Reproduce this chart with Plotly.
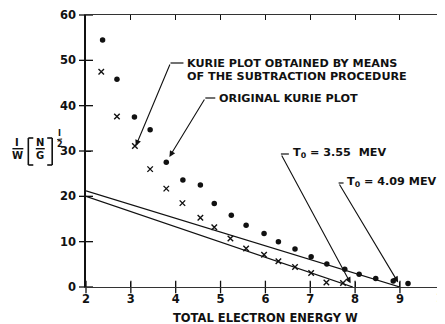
import plotly.graph_objects as go

# ---------------- data ----------------
dots_x = [2.37, 2.69, 3.08, 3.43, 3.79, 4.16, 4.55, 4.86, 5.24, 5.57, 5.97, 6.29, 6.66, 7.02, 7.37, 7.77, 8.09, 8.46, 8.85, 9.18]
dots_y = [54.5, 45.8, 37.5, 34.7, 27.5, 23.6, 22.5, 18.4, 15.8, 13.6, 11.8, 10.0, 8.4, 6.7, 5.1, 3.9, 2.8, 1.9, 1.3, 0.75]

cross_x = [2.34, 2.69, 3.09, 3.43, 3.79, 4.15, 4.55, 4.86, 5.22, 5.57, 5.97, 6.29, 6.66, 7.02, 7.36, 7.73]
cross_y = [47.5, 37.6, 31.1, 26.0, 21.7, 18.5, 15.3, 13.2, 10.7, 8.5, 7.1, 5.7, 4.4, 3.1, 1.0, 0.9]

fit_orig_x = [2.0, 9.0]
fit_orig_y = [21.2, 0.0]
fit_sub_x = [2.0, 7.95]
fit_sub_y = [20.0, 0.0]

x_ticks = [2, 3, 4, 5, 6, 7, 8, 9]
y_ticks = [0, 10, 20, 30, 40, 50, 60]

# ---------------- style ----------------
INK = "#111111"
FONT = "DejaVu Sans"
OFF = 8                      # page body margin
W, H = 438, 316
L, R, T, B = 78, 0, 7, 37
PW, PH = W - L - R, H - T - B
XUNIT = 45.1                 # px per unit of W


def P(px, py):
    """reference-page pixel -> paper coordinates"""
    return (px - OFF - L) / PW, (H - B - (py - OFF)) / PH


fig = go.Figure()

fig.add_trace(go.Scatter(x=fit_orig_x, y=fit_orig_y, mode="lines",
                         line=dict(color=INK, width=1.3), showlegend=False, hoverinfo="skip"))
fig.add_trace(go.Scatter(x=fit_sub_x, y=fit_sub_y, mode="lines",
                         line=dict(color=INK, width=1.3), showlegend=False, hoverinfo="skip"))
fig.add_trace(go.Scatter(x=dots_x, y=dots_y, mode="markers", cliponaxis=False,
                         marker=dict(symbol="circle", size=5.5, color=INK), showlegend=False))
fig.add_trace(go.Scatter(x=cross_x, y=cross_y, mode="markers",
                         marker=dict(symbol="x-thin", size=5.5, color=INK, line=dict(width=1.4, color=INK)),
                         showlegend=False))
# crossing tick marks on the bottom and left axes
fig.add_trace(go.Scatter(x=x_ticks, y=[y_ticks[0]] * len(x_ticks), mode="markers", cliponaxis=False,
                         marker=dict(symbol="line-ns-open", size=9, color=INK, line=dict(width=1.3, color=INK)),
                         hoverinfo="skip", showlegend=False))
fig.add_trace(go.Scatter(x=[x_ticks[0]] * len(y_ticks), y=y_ticks, mode="markers", cliponaxis=False,
                         marker=dict(symbol="line-ew-open", size=10, color=INK, line=dict(width=1.3, color=INK)),
                         hoverinfo="skip", showlegend=False))

xr = [2, 2 + PW / XUNIT]
yr = [0, 60]
tickfont = dict(family=FONT, size=11.5, color=INK, weight="bold")

fig.update_layout(
    width=W, height=H,
    margin=dict(l=L, r=R, t=T, b=B, pad=0),
    paper_bgcolor="white", plot_bgcolor="white",
    xaxis=dict(range=xr, tickvals=x_ticks, ticks="inside", ticklen=5, tickwidth=1.2, tickcolor=INK,
               showline=True, linecolor="#333333", linewidth=1, mirror="ticks",
               showgrid=False, zeroline=False, tickfont=tickfont, ticklabelstandoff=1),
    yaxis=dict(range=yr, tickvals=y_ticks, ticks="inside", ticklen=5, tickwidth=1.2, tickcolor=INK,
               showline=True, linecolor=INK, linewidth=1.5, mirror="ticks",
               showgrid=False, zeroline=False, tickfont=tickfont, ticklabelstandoff=6),
)

ann = []
shapes = []


def text(px, py, s, size=11, xanchor="left", bold=True):
    x, y = P(px, py)
    ann.append(dict(x=x, y=y, xref="paper", yref="paper", text=s, showarrow=False,
                    xanchor=xanchor, yanchor="middle",
                    font=dict(family=FONT, size=size, color=INK, weight="bold" if bold else "normal")))


def pline(x0, y0, x1, y1, w=1.2):
    a, b = P(x0, y0)
    c, d = P(x1, y1)
    shapes.append(dict(type="line", xref="paper", yref="paper", x0=a, y0=b, x1=c, y1=d,
                       line=dict(color=INK, width=w)))


def leader(hook_px, hook_end_px, tip):
    # tip in data coords; hook corner given in reference pixels
    hx, hy = hook_px
    pline(hx, hy, hook_end_px, hy)
    px_, py_ = P(hx, hy)
    cx = xr[0] + px_ * (xr[1] - xr[0])
    cy = yr[0] + py_ * (yr[1] - yr[0])
    ann.append(dict(x=tip[0], y=tip[1], xref="x", yref="y", ax=cx, ay=cy, axref="x", ayref="y",
                    text="", showarrow=True, arrowhead=2, arrowsize=1.1, arrowwidth=1.1,
                    arrowcolor=INK, standoff=0, startstandoff=0))


# annotation texts
text(186, 63, "KURIE PLOT OBTAINED BY MEANS", size=11.2)
text(186, 76, "OF THE SUBTRACTION PROCEDURE", size=11.2)
leader((171, 63), 184, (3.11, 31.1))

text(218, 98, "ORIGINAL KURIE PLOT", size=11.2)
leader((206, 98), 216, (3.86, 28.7))

text(292, 153, "T<sub>0</sub> = 3.55\u00a0 MEV", size=11.2)
leader((282, 154), 290, (7.9, 0.8))

text(346, 182, "T<sub>0</sub> = 4.09 MEV", size=11.2)
leader((340, 183), 345, (8.96, 1.0))

# x-axis title
text(267, 318, "TOTAL ELECTRON ENERGY W", size=11.5, xanchor="center")
# partially visible "10" tick label
text(446, 298, "10", size=11.5, xanchor="center")

# y-axis label: 1/W [N/G]^(1/2)
text(17, 142, "I", size=10, xanchor="center")
pline(12, 148.7, 23, 148.7, w=1.4)
text(17, 155.5, "W", size=10, xanchor="center")
text(40, 142, "N", size=10, xanchor="center")
pline(35.5, 148.7, 44.5, 148.7, w=1.4)
text(40, 155.5, "G", size=10, xanchor="center")
# brackets
for pts in ([(33, 138), (28, 138), (28, 165), (33, 165)], [(47, 138), (52, 138), (52, 165), (47, 165)]):
    for (a0, b0), (a1, b1) in zip(pts[:-1], pts[1:]):
        pline(a0, b0, a1, b1, w=1.6)
# exponent 1/2
text(59.5, 133.5, "I", size=8, xanchor="center")
pline(57, 139.5, 62, 139, w=1)
text(59.5, 144.5, "2", size=8, xanchor="center")

fig.update_layout(annotations=ann, shapes=shapes)
fig.write_html("out.html")
